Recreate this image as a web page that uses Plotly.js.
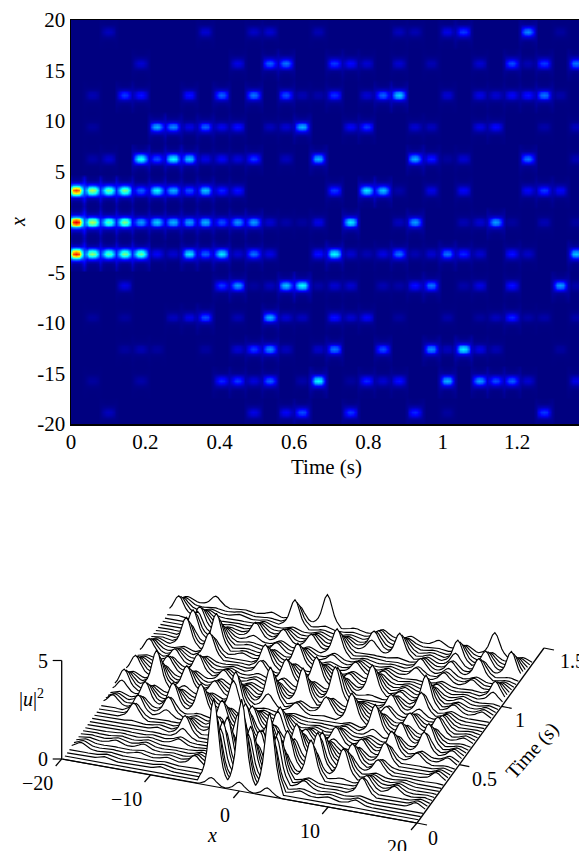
<!DOCTYPE html>
<html><head><meta charset="utf-8">
<script src="https://cdn.plot.ly/plotly-3.0.1.min.js"></script>
<style>html,body{margin:0;padding:0;background:#fff;overflow:hidden}</style>
</head><body><div id="c" style="width:579px;height:851px"></div>
<script>
// Peak intensity (% of full scale) per lattice row x = k*pi, one entry per focusing period
const row_p6=[0,0,6,0,0,0,0,0,8,0,0,7,8,0,0,5,0,0,0,0,6,5,0,10,18,0,0,0,26,0,3,0];
const row_p5=[0,0,0,0,8,0,0,0,0,0,10,0,22,24,0,0,18,13,8,0,8,0,5,0,0,8,0,20,5,18,0,24];
const row_p4=[0,5,0,18,14,0,0,14,0,22,0,24,0,20,5,4,17,0,8,22,33,0,0,8,0,10,8,12,14,24,4,0];
const row_p3=[0,3,0,0,0,30,26,10,22,11,14,0,6,8,30,0,0,12,18,0,0,8,6,0,0,10,13,0,0,4,0,6];
const row_p2=[0,4,8,0,40,20,38,32,10,12,9,18,0,6,0,30,0,0,0,0,0,30,15,3,8,0,0,0,24,0,0,5];
const row_p1=[82,55,48,50,22,38,30,20,32,16,14,0,0,0,0,0,18,0,36,32,4,0,10,0,12,0,0,0,12,18,12,0];
const row_0 =[90,55,45,50,28,33,30,28,30,20,27,28,8,4,3,10,0,36,0,0,6,28,0,0,5,8,28,3,0,5,0,3];
const row_m1=[86,52,46,50,48,12,8,36,22,36,8,24,10,0,0,14,38,8,5,10,24,5,8,24,16,8,0,14,7,0,0,32];
const row_m2=[0,0,0,10,0,0,0,0,0,18,28,3,6,32,38,4,8,8,0,5,4,14,24,0,4,10,0,14,0,0,28,4];
const row_m3=[0,3,0,3,0,0,6,10,20,0,5,0,30,8,6,0,14,8,12,0,3,0,0,4,0,3,6,16,4,4,0,4];
const row_m4=[0,0,0,3,5,3,0,0,3,0,8,18,26,6,0,7,24,0,0,20,0,0,26,6,36,10,5,0,0,0,3,0];
const row_m5=[0,3,0,0,4,0,0,0,0,16,18,9,22,0,4,38,0,3,16,8,14,0,0,30,0,28,20,22,8,0,0,10];
const row_m6=[0,0,6,0,0,0,0,0,0,0,0,10,0,12,20,0,0,18,0,0,0,16,0,3,0,0,0,0,0,18,0,0];
const rows={'6':row_p6,'5':row_p5,'4':row_p4,'3':row_p3,'2':row_p2,'1':row_p1,'0':row_0,'-1':row_m1,'-2':row_m2,'-3':row_m3,'-4':row_m4,'-5':row_m5,'-6':row_m6};

// Spot shape (|row offset| 0..6, |period offset| 0..3)
const spot=[[1,.92,.6,.16],[.78,.72,.48,.15],[.32,.3,.24,.12],[.09,.09,.1,.09],[.03,.03,.05,.07],[.015,.015,.03,.05],[.01,.01,.02,.04]];
// Ridge cross-section and time decay for the waterfall
const ridge=[1,.88,.62,.36,.2,.11,.06];
const decay=[.1,1,.78,.55,.38,.25,.15,.08];

const firstPeak=.0135, period=.0434, nLines=52, tEnd=1.37;
const xTickVals=[0,.2,.4,.6,.8,1,1.2], xTickText=['0','0.2','0.4','0.6','0.8','1','1.2'];
const yTickVals=[-20,-15,-10,-5,0,5,10,15,20], yTickText=['-20','-15','-10','-5','0','5','10','15','20'];
const wfX=[-20,-10,0,10,20], wfXText=['\u221220','\u221210','0','10','20'];
const wfT=[0,.5,1,1.5], wfTText=['0','0.5','1','1.5'];
const wfZ=[0,5];

const jet=[[0,'rgb(0,0,128)'],[.125,'rgb(0,0,255)'],[.375,'rgb(0,255,255)'],[.625,'rgb(255,255,0)'],[.875,'rgb(255,0,0)'],[1,'rgb(128,0,0)']];
const W=579,H=851;

// heat map field
const hy=[],hx=[],hz=[];
for(let j=-2;j<=31*6+3;j++)hx.push(firstPeak+j*period/6);
for(let i=-77;i<=77;i++){
  hy.push(i*Math.PI/12);
  const k=Math.round(i/12), dr=Math.abs(i-12*k), a=rows[String(k)]||[], line=[];
  for(let j=-2;j<=31*6+3;j++){
    const nn=Math.max(0,Math.round(j/6)), dc=Math.min(3,Math.abs(j-6*nn));
    let v=(a[nn]||0)*spot[dr][dc];
    if(dc===3&&j>0)v+=(a[nn-1]||0)*spot[dr][3];
    line.push(v);
  }
  hz.push(line);
}
const traces=[{type:'heatmap',x:hx,y:hy,z:hz,zmin:0,zmax:100,zsmooth:'best',colorscale:jet,showscale:false,hoverinfo:'skip',xaxis:'x',yaxis:'y'}];

// oblique projection of the waterfall onto the page
const P=(x,t,z)=>[61.7+(x+20)/40*355.3+t/1.5*127, 759+(x+20)/40*64-t/1.5*175-(z||0)*19.7];
const add=(pts,extra)=>traces.push(Object.assign({type:'scatter',mode:'lines',x:pts.map(p=>p[0]),y:pts.map(p=>p[1]),xaxis:'x2',yaxis:'y2',hoverinfo:'skip',showlegend:false,line:{color:'#000',width:1.15}},extra||{}));

const dtLine=tEnd/(nLines-1);
for(let l=nLines-1;l>=0;l--){
  const t=l*dtLine, curve=[];
  for(let i=-76;i<=76;i++){
    const x=i*Math.PI/12, k=Math.round(i/12), dr=Math.abs(i-12*k), a=rows[String(k)]||[];
    let h=0;
    for(let n=0;n<32;n++){
      if(!a[n])continue;
      const off=l-Math.round((firstPeak+n*period)/dtLine)+1;
      if(off<0||off>=decay.length)continue;
      h=Math.max(h,a[n]*.05*decay[off]*ridge[dr]);
    }
    curve.push(P(x,t,h));
  }
  const xa=-76*Math.PI/12, xb=76*Math.PI/12;
  add(curve.concat([P(xb,t,0),P(xa,t,0)]),{fill:'toself',fillcolor:'#fff',line:{width:0,color:'rgba(0,0,0,0)'}});
  add(curve);
}
// waterfall axes
add([P(-20,0),P(20,0)]);
add([P(20,0),P(20,1.5)],{line:{color:'#000',width:1.3}});
add([P(-20,0,0),P(-20,0,5)],{line:{color:'#000',width:1.3}});
const anns=[];
const label=(text,x,y,size,extra)=>anns.push(Object.assign({xref:'x2',yref:'y2',x:x,y:y,text:text,showarrow:false,xanchor:'center',yanchor:'middle',font:{family:'Liberation Serif',size:size,color:'#000'}},extra||{}));
const xLabelDx=[-24.5,-24.5,-14,-18,-20], tLabelDx=[16,25,18,28], tLabelDy=[15,14,14,13];
wfX.forEach((v,i)=>{const a=P(v,0);add([a,[a[0]-6,a[1]+7]],{line:{color:'#000',width:1.2}});
  label(wfXText[i],a[0]+xLabelDx[i],a[1]+24,20);});
wfT.forEach((v,i)=>{const a=P(20,v);add([a,[a[0]+10,a[1]+2]],{line:{color:'#000',width:1.2}});
  label(wfTText[i],a[0]+tLabelDx[i],a[1]+tLabelDy[i],20);});
wfZ.forEach((v,i)=>{const a=P(-20,0,v);add([a,[a[0]-9,a[1]]],{line:{color:'#000',width:1.2}});
  label(String(v),a[0]-19,a[1],20);});
label('<i>x</i>',212,835,20);
label('Time (s)',532,750,20,{textangle:-48});
label('|<i>u</i>|<sup>2</sup>',31,698,20);
label('<i>x</i>',18,222,20,{textangle:-90});
label('Time (s)',326,467,21);

const layout={width:W,height:H,margin:{l:0,r:0,t:0,b:0},paper_bgcolor:'#fff',plot_bgcolor:'rgba(0,0,0,0)',showlegend:false,
  font:{family:'Liberation Serif',size:21,color:'#000'},annotations:anns,
  xaxis:{domain:[71/W,1],range:[0,508/371.7],tickmode:'array',tickvals:xTickVals,ticktext:xTickText,ticks:'',ticklabelstandoff:-2,showgrid:false,zeroline:false,showline:true,mirror:true,linecolor:'#000',linewidth:1.5,anchor:'y'},
  yaxis:{domain:[1-424/H,1-20/H],range:[-20,20],tickmode:'array',tickvals:yTickVals,ticktext:yTickText,ticks:'',showgrid:false,zeroline:false,showline:true,linecolor:'#000',linewidth:1.5,anchor:'x'},
  xaxis2:{domain:[0,1],range:[0,W],visible:false,anchor:'y2',fixedrange:true},
  yaxis2:{domain:[0,1],range:[H,0],visible:false,anchor:'x2',fixedrange:true}
};
Plotly.newPlot('c',traces,layout,{displayModeBar:false,staticPlot:true});
</script></body></html>
